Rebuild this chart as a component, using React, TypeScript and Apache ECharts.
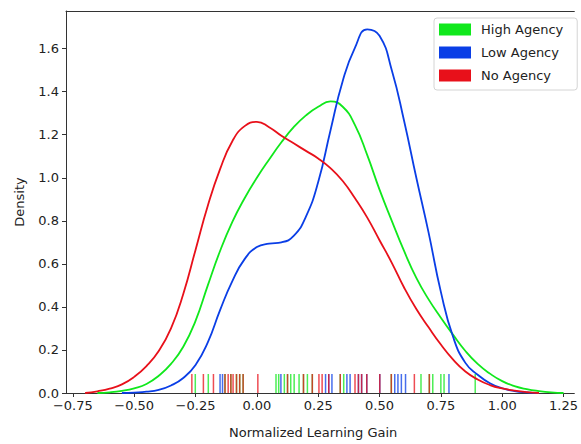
import React, { useEffect, useRef } from 'react';
import * as echarts from 'echarts';

const SERIES_NAMES = ['High Agency', 'Low Agency', 'No Agency'];
const SERIES_COLORS = ['#10e81c', '#0a3ee6', '#e8101a'];

const X_TICKS = [-0.75, -0.5, -0.25, 0, 0.25, 0.5, 0.75, 1.0, 1.25];
const Y_TICKS = [0, 0.2, 0.4, 0.6, 0.8, 1.0, 1.2, 1.4, 1.6];

const X_GRID = [
  -0.70, -0.65, -0.60, -0.55, -0.50, -0.45, -0.40, -0.35, -0.30, -0.25,
  -0.20, -0.15, -0.10, -0.05, 0.00, 0.05, 0.10, 0.15, 0.20, 0.25,
  0.30, 0.35, 0.40, 0.45, 0.50, 0.55, 0.60, 0.65, 0.70, 0.75,
  0.80, 0.85, 0.90, 0.95, 1.00, 1.05, 1.10, 1.15, 1.20, 1.25,
];

const HIGH_AGENCY = [
  null, 0.0, 0.003, 0.01, 0.022, 0.042, 0.08, 0.135, 0.215, 0.335,
  0.50, 0.66, 0.795, 0.905, 1.0, 1.085, 1.165, 1.235, 1.29, 1.33,
  1.355, 1.33, 1.245, 1.105, 0.945, 0.80, 0.66, 0.535, 0.435, 0.35,
  0.27, 0.195, 0.135, 0.09, 0.055, 0.032, 0.018, 0.009, 0.003, 0.0,
];

const LOW_AGENCY = [
  null, null, null, 0.0, 0.002, 0.006, 0.015, 0.035, 0.07, 0.13,
  0.235, 0.385, 0.52, 0.622, 0.678, 0.694, 0.70, 0.73, 0.82, 0.98,
  1.22, 1.45, 1.605, 1.69, 1.66, 1.50, 1.265, 1.0, 0.745, 0.47,
  0.26, 0.14, 0.085, 0.045, 0.022, 0.009, 0.003, 0.0, null, null,
];

const NO_AGENCY = [
  0.0, 0.008, 0.02, 0.04, 0.075, 0.125, 0.195, 0.30, 0.46, 0.665,
  0.87, 1.04, 1.17, 1.24, 1.26, 1.235, 1.195, 1.16, 1.125, 1.09,
  1.045, 0.985, 0.905, 0.815, 0.71, 0.605, 0.49, 0.39, 0.305, 0.225,
  0.155, 0.10, 0.063, 0.037, 0.021, 0.011, 0.004, 0.0, null, null,
];

const HIGH_RUG = [
  -0.251, -0.198, -0.13, -0.106, -0.083, -0.07, -0.056, 0.078, 0.089, 0.112,
  0.125, 0.138, 0.152, 0.172, 0.19, 0.206, 0.226, 0.34, 0.354, 0.548,
  0.669, 0.703, 0.717, 0.75, 0.763, 0.89,
];
const LOW_RUG = [
  -0.15, -0.14, 0.098, 0.28, 0.293, 0.306, 0.367, 0.38, 0.414, 0.427,
  0.448, 0.501, 0.562, 0.575, 0.589, 0.606, 0.783,
];
const NO_RUG = [
  -0.265, -0.218, -0.177, -0.13, -0.117, -0.106, -0.097, -0.083, -0.07, -0.056,
  0.004, 0.125, 0.19, 0.226, 0.253, 0.266, 0.293, 0.34, 0.40, 0.414,
  0.427, 0.448, 0.501, 0.548, 0.642, 0.703,
];

const X_MIN = -0.778;
const X_MAX = 1.294;
const Y_MIN = 0;
const Y_MAX = 1.775;
const RUG_PX = 19;
const FONT = 'DejaVu Sans';
const AXIS_COLOR = '#333';

function lineSeries(name: string, ys: (number | null)[], color: string) {
  return {
    type: 'line',
    name,
    data: X_GRID.map((x, i) => [x, ys[i]]),
    color,
    smooth: 0.5,
    symbol: 'none',
    connectNulls: false,
    lineStyle: { width: 1.8, color },
    itemStyle: { color },
    z: 3,
  };
}

function rugSeries(name: string, xs: number[], color: string) {
  return {
    type: 'custom',
    name: name + ' rug',
    data: xs.map((x) => [x, 0]),
    encode: { x: 0, y: 1 },
    silent: true,
    z: 2,
    renderItem: (_params: any, api: any) => {
      const p = api.coord([api.value(0), 0]);
      return {
        type: 'line',
        shape: { x1: p[0], y1: p[1], x2: p[0], y2: p[1] - RUG_PX },
        style: { stroke: color, lineWidth: 1.5, opacity: 0.75 },
      };
    },
  };
}

export default function App() {
  const ref = useRef<HTMLDivElement>(null);
  useEffect(() => {
    const chart = echarts.init(ref.current!, null, { renderer: 'svg' });
    const option: any = {
      animation: false,
      backgroundColor: '#fff',
      textStyle: { fontFamily: FONT },
      grid: { left: 66, right: 0, top: 11, bottom: 46 },
      legend: {
        data: SERIES_NAMES,
        orient: 'vertical',
        left: 434,
        top: 18,
        icon: 'rect',
        itemWidth: 32,
        itemHeight: 12,
        itemGap: 10,
        padding: [5, 14, 8, 5],
        backgroundColor: '#fff',
        borderColor: '#d4d4d4',
        borderWidth: 1,
        borderRadius: 3,
        textStyle: { fontSize: 13, color: '#222', fontFamily: FONT, lineHeight: 12, padding: [0, 0, 0, 5] },
      },
      xAxis: [
        {
          type: 'value',
          min: X_MIN,
          max: X_MAX,
          position: 'bottom',
          name: 'Normalized Learning Gain',
          nameLocation: 'middle',
          nameGap: 33,
          nameTextStyle: { fontSize: 13, color: '#222', fontFamily: FONT, padding: [0, 14, 0, 0] },
          axisLine: { show: true, onZero: false, lineStyle: { color: AXIS_COLOR, width: 1 } },
          axisTick: { show: true, length: 4, customValues: X_TICKS, lineStyle: { color: AXIS_COLOR } },
          axisLabel: {
            customValues: X_TICKS,
            margin: 6,
            fontSize: 13,
            color: '#222',
            fontFamily: FONT,
            formatter: (v: number) => v.toFixed(2).replace('-', '\u2212'),
          },
          splitLine: { show: false },
        },
        {
          type: 'value',
          min: X_MIN,
          max: X_MAX,
          position: 'top',
          axisLine: { show: true, onZero: false, lineStyle: { color: AXIS_COLOR, width: 1 } },
          axisTick: { show: false },
          axisLabel: { show: false },
          splitLine: { show: false },
        },
      ],
      yAxis: {
        type: 'value',
        min: Y_MIN,
        max: Y_MAX,
        position: 'left',
        name: 'Density',
        nameLocation: 'middle',
        nameGap: 40,
        nameTextStyle: { fontSize: 13, color: '#222', fontFamily: FONT },
        axisLine: { show: true, onZero: false, lineStyle: { color: AXIS_COLOR, width: 1 } },
        axisTick: { show: true, length: 4, customValues: Y_TICKS, lineStyle: { color: AXIS_COLOR } },
        axisLabel: {
          customValues: Y_TICKS,
          margin: 7,
          fontSize: 13,
          color: '#222',
          fontFamily: FONT,
          formatter: (v: number) => v.toFixed(1),
        },
        splitLine: { show: false },
      },
      series: [
        rugSeries(SERIES_NAMES[0], HIGH_RUG, SERIES_COLORS[0]),
        rugSeries(SERIES_NAMES[1], LOW_RUG, SERIES_COLORS[1]),
        rugSeries(SERIES_NAMES[2], NO_RUG, SERIES_COLORS[2]),
        lineSeries(SERIES_NAMES[0], HIGH_AGENCY, SERIES_COLORS[0]),
        lineSeries(SERIES_NAMES[1], LOW_AGENCY, SERIES_COLORS[1]),
        lineSeries(SERIES_NAMES[2], NO_AGENCY, SERIES_COLORS[2]),
      ],
    };
    chart.setOption(option);
    return () => chart.dispose();
  }, []);
  return (
    <div style={{ position: 'fixed', left: 0, top: 0, width: 581, height: 444, overflow: 'hidden', background: '#fff' }}>
      <div ref={ref} style={{ width: 581, height: 444 }} />
    </div>
  );
}
